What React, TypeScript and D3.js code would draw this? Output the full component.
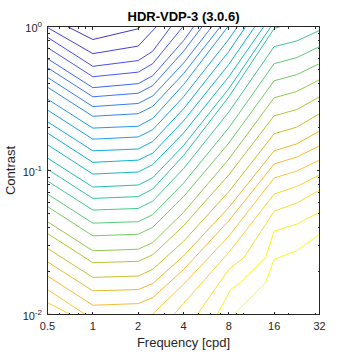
import React from "react";
import * as d3 from "d3";

type Pt = [number, number];

const title = "HDR-VDP-3 (3.0.6)";
const xLabel = "Frequency [cpd]";
const yLabel = "Contrast";

const freqTicks = [0.5, 1, 2, 4, 8, 16, 32];
const freqMinorTicks = [0.6, 0.7, 0.8, 0.9, 3, 5, 6, 7, 9, 10, 20, 30];
const contrastTicks = [0.01, 0.1, 1];
const contrastTickExp = ["-2", "-1", "0"];
const contrastMinorTicks = [0.02, 0.03, 0.04, 0.05, 0.06, 0.07, 0.08, 0.09, 0.2, 0.3, 0.4, 0.5, 0.6, 0.7, 0.8, 0.9];

// contour levels 1..15 (they leave through the top), each level is a list of pieces of [freq, contrast]
const upperContours: Pt[][][] = [
  [[[0.676, 1], [1, 0.812], [2, 0.964], [2.073, 1]]],
  [[[0.5, 0.984], [1, 0.648], [2, 0.731], [2.647, 1]]],
  [[[0.5, 0.842], [1, 0.529], [2, 0.58], [2.5, 0.674], [3.305, 1]]],
  [[[0.5, 0.714], [1, 0.448], [2, 0.482], [2.5, 0.552], [3.974, 1]]],
  [[[0.5, 0.598], [1, 0.376], [2, 0.401], [2.5, 0.455], [4, 0.797], [4.68, 1]]],
  [[[0.5, 0.518], [1, 0.325], [2, 0.344], [2.5, 0.389], [4, 0.672], [5.33, 1]]],
  [[[0.5, 0.443], [1, 0.278], [2, 0.292], [2.5, 0.329], [4, 0.557], [6.19, 1]]],
  [[[0.5, 0.379], [1, 0.238], [2, 0.248], [2.5, 0.279], [4, 0.47], [7.04, 1]]],
  [[[0.5, 0.313], [1, 0.197], [2, 0.203], [2.5, 0.23], [4, 0.394], [7.9, 1]]],
  [[[0.5, 0.263], [1, 0.165], [2, 0.171], [2.5, 0.192], [4, 0.325], [8, 0.816], [9.14, 1]]],
  [[[0.5, 0.218], [1, 0.137], [2, 0.141], [2.5, 0.159], [4, 0.268], [8, 0.671], [10.37, 1]]],
  [[[0.5, 0.182], [1, 0.114], [2, 0.118], [2.5, 0.132], [4, 0.221], [8, 0.546], [11.94, 1]]],
  [[[0.5, 0.151], [1, 0.0945], [2, 0.0976], [2.5, 0.11], [4, 0.182], [8, 0.448], [13.66, 1]]],
  [[[0.5, 0.122], [1, 0.0767], [2, 0.0793], [2.5, 0.0891], [4, 0.149], [8, 0.37], [15.25, 1]]],
  [[[0.5, 0.102], [1, 0.064], [2, 0.0659], [2.5, 0.0744], [4, 0.127], [8, 0.325], [16, 0.968], [17.63, 1]]],
];

// contour levels 16..28 (they reach the right edge)
const lowerContours: Pt[][][] = [
  [[[0.5, 0.0845], [1, 0.0531], [2, 0.0545], [2.5, 0.0613], [4, 0.103], [8, 0.255], [16, 0.725], [22.6, 0.794], [32, 0.938]]],
  [[[0.5, 0.0686], [1, 0.0431], [2, 0.0441], [2.5, 0.0494], [4, 0.0817], [8, 0.198], [16, 0.552], [22.6, 0.608], [32, 0.725]]],
  [[[0.5, 0.0561], [1, 0.0352], [2, 0.0361], [2.5, 0.0403], [4, 0.0657], [8, 0.155], [16, 0.42], [22.6, 0.463], [32, 0.552]]],
  [[[0.5, 0.0441], [1, 0.0277], [2, 0.0284], [2.5, 0.0316], [4, 0.0512], [8, 0.12], [16, 0.32], [22.6, 0.354], [32, 0.427]]],
  [[[0.5, 0.0365], [1, 0.0229], [2, 0.0234], [2.5, 0.026], [4, 0.0413], [8, 0.0932], [16, 0.24], [22.6, 0.265], [32, 0.325]]],
  [[[0.5, 0.0288], [1, 0.0181], [2, 0.0185], [2.5, 0.0206], [4, 0.0322], [8, 0.0713], [16, 0.18], [22.6, 0.2], [32, 0.248]]],
  [[[0.5, 0.0232], [1, 0.0146], [2, 0.0149], [2.5, 0.0164], [4, 0.0255], [8, 0.0554], [16, 0.137], [22.6, 0.153], [32, 0.188]]],
  [[[0.5, 0.0185], [1, 0.0116], [2, 0.0119], [2.5, 0.0131], [4, 0.0205], [8, 0.0448], [16, 0.111], [22.6, 0.124], [32, 0.148]]],
  [
    [[0.5, 0.0149], [0.894, 0.01]],
    [[2.48, 0.01], [4, 0.0162], [8, 0.035], [16, 0.0887], [22.6, 0.0992], [32, 0.118]],
  ],
  [
    [[0.5, 0.0121], [0.711, 0.01]],
    [[3.45, 0.01], [4, 0.0119], [8, 0.027], [16, 0.0686], [22.6, 0.0774], [32, 0.093]],
  ],
  [
    [[0.5, 0.0103], [0.523, 0.01]],
    [[4.93, 0.01], [8, 0.0206], [10.06, 0.0248], [16, 0.0522], [22.6, 0.0594], [32, 0.0731]],
  ],
  [[[6.7, 0.01], [8.21, 0.0149], [9.56, 0.0166], [14.02, 0.0248], [16, 0.0379], [22.6, 0.0424], [32, 0.0514]]],
  [[[8.63, 0.01], [14.02, 0.0166], [16, 0.0242], [22.6, 0.0277], [32, 0.0361]]],
];

// parula colormap stops (position, colour)
const parulaPos = [0, 0.111, 0.222, 0.333, 0.444, 0.556, 0.667, 0.714, 0.778, 0.81, 0.841, 0.873, 0.905, 0.937, 0.968, 1];
const parulaCol = [
  "#3e26a8", "#4747eb", "#3e6fff", "#2796eb", "#08b5d0", "#31c69f", "#81cc59", "#abc739",
  "#dcbd29", "#f0ba36", "#febd3c", "#fec934", "#f9d62d", "#f5e327", "#f7f51b", "#f9fb15",
];

const axisColor = "#262626";
const font = "'Liberation Sans', Arial, Helvetica, sans-serif";

export default function App() {
  const left = 47.5, right = 319.5, top = 26.5, bottom = 314.5;
  const x = d3.scaleLog().domain([0.5, 32]).range([left, right]);
  const y = d3.scaleLog().domain([0.01, 1]).range([bottom, top]);
  const line = d3.line<Pt>().x(d => x(d[0])).y(d => y(d[1]));

  const levels = [...upperContours, ...lowerContours];
  const levelT = d3.scaleLinear().domain([0, levels.length - 1]).range([0.055, 1]);
  const cmap = d3.scaleLinear<string>().domain(parulaPos).range(parulaCol).interpolate(d3.interpolateRgb);

  const crisp = (v: number) => Math.round(v - 0.5) + 0.5;
  const major = 3, minor = 2;

  return (
    <svg width={354} height={354} style={{ position: "absolute", left: 0, top: 0, background: "#fff" }}>
      <defs>
        <clipPath id="plotClip">
          <rect x={left} y={top} width={right - left} height={bottom - top} />
        </clipPath>
      </defs>
      <rect x={0} y={0} width={354} height={354} fill="#fff" />

      <g clipPath="url(#plotClip)" fill="none" strokeWidth={1} strokeLinejoin="round">
        {levels.map((pieces, i) =>
          pieces.map((pts, j) => (
            <path key={`${i}-${j}`} d={line(pts) || ""} stroke={cmap(levelT(i))} />
          ))
        )}
      </g>

      <g stroke={axisColor} strokeWidth={1} fill="none" shapeRendering="crispEdges">
        <rect x={left} y={top} width={right - left} height={bottom - top} />
        {freqTicks.map(f => {
          const px = crisp(x(f));
          return (
            <g key={`fx${f}`}>
              <line x1={px} x2={px} y1={bottom} y2={bottom - major} />
              <line x1={px} x2={px} y1={top} y2={top + major} />
            </g>
          );
        })}
        {freqMinorTicks.map(f => {
          const px = crisp(x(f));
          return (
            <g key={`fm${f}`}>
              <line x1={px} x2={px} y1={bottom} y2={bottom - minor} />
              <line x1={px} x2={px} y1={top} y2={top + minor} />
            </g>
          );
        })}
        {contrastTicks.map(c => {
          const py = crisp(y(c));
          return (
            <g key={`cy${c}`}>
              <line x1={left} x2={left + major} y1={py} y2={py} />
              <line x1={right} x2={right - major} y1={py} y2={py} />
            </g>
          );
        })}
        {contrastMinorTicks.map(c => {
          const py = crisp(y(c));
          return (
            <g key={`cm${c}`}>
              <line x1={left} x2={left + minor} y1={py} y2={py} />
              <line x1={right} x2={right - minor} y1={py} y2={py} />
            </g>
          );
        })}
      </g>

      <g fontFamily={font} fill={axisColor} fontSize={11}>
        {freqTicks.map(f => (
          <text key={`lx${f}`} x={x(f)} y={330} textAnchor="middle">
            {String(f)}
          </text>
        ))}
        {contrastTicks.map((c, i) => (
          <text key={`ly${c}`} x={42} y={y(c) + 5} textAnchor="end">
            <tspan>10</tspan>
            <tspan dy={-5} fontSize={8}>
              {contrastTickExp[i]}
            </tspan>
          </text>
        ))}
      </g>

      <text x={(left + right) / 2} y={347} textAnchor="middle" fontFamily={font} fontSize={13} fill={axisColor}>
        {xLabel}
      </text>
      <text
        transform={`translate(15, ${(top + bottom) / 2}) rotate(-90)`}
        textAnchor="middle"
        fontFamily={font}
        fontSize={13}
        fill={axisColor}
      >
        {yLabel}
      </text>
      <text x={(left + right) / 2} y={21} textAnchor="middle" fontFamily={font} fontSize={13} fontWeight="bold" fill="#000">
        {title}
      </text>
    </svg>
  );
}
